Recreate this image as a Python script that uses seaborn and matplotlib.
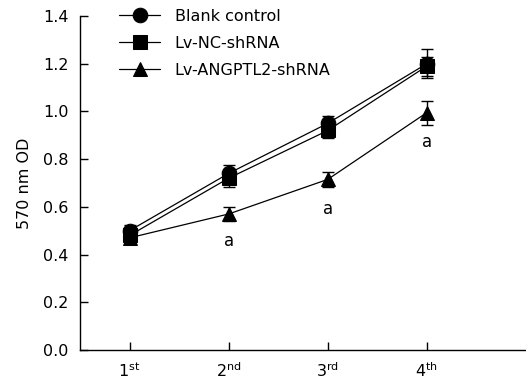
import numpy as np
import pandas as pd
import seaborn as sns
import matplotlib
matplotlib.use("Agg")
import matplotlib.pyplot as plt

sns.set_style("ticks")
plt.rcParams['font.family'] = ['DejaVu Sans']
plt.rcParams['mathtext.default'] = 'regular'
plt.rcParams['text.color'] = 'black'
plt.rcParams['axes.labelcolor'] = 'black'
plt.rcParams['xtick.color'] = 'black'
plt.rcParams['ytick.color'] = 'black'

days = [1, 2, 3, 4]
day_labels = [r'1$^{st}$', r'2$^{nd}$', r'3$^{rd}$', r'4$^{th}$']
groups = ["Blank control", "Lv-NC-shRNA", "Lv-ANGPTL2-shRNA"]
blank = [0.50, 0.74, 0.95, 1.20]
blank_sd = [0.025, 0.035, 0.03, 0.06]
nc = [0.48, 0.72, 0.92, 1.19]
nc_sd = [0.03, 0.035, 0.03, 0.04]
angptl2 = [0.47, 0.57, 0.715, 0.995]
angptl2_sd = [0.02, 0.03, 0.03, 0.05]
sig_pos = [0.455, 0.59, 0.87]

df = pd.DataFrame({
    "day": days * 3,
    "od": blank + nc + angptl2,
    "sd": blank_sd + nc_sd + angptl2_sd,
    "group": np.repeat(groups, 4),
})

fig, ax = plt.subplots(figsize=(5.26, 3.8), dpi=100)
markers = {"Blank control": "o", "Lv-NC-shRNA": "s", "Lv-ANGPTL2-shRNA": "^"}

for g in groups:
    sub = df[df.group == g]
    ax.errorbar(sub.day, sub.od, yerr=sub.sd, fmt="none", ecolor="black",
                elinewidth=1, capsize=4, capthick=1, zorder=2)

sns.lineplot(data=df, x="day", y="od", hue="group", style="group",
             markers=markers, dashes=False, palette=["black"] * 3,
             markersize=10.5, linewidth=0.9, markeredgecolor="black", ax=ax, zorder=3)

for d, y in zip(days[1:], sig_pos):
    ax.text(d, y, "a", ha="center", va="center", fontsize=12)

ax.set_xlim(0.5, 5.0)
ax.set_ylim(0, 1.4)
ax.set_xticks(days)
ax.set_xticklabels(day_labels, fontsize=11.5)
ax.set_yticks(np.arange(0, 1.41, 0.2))
ax.set_yticklabels([f"{v:.1f}" for v in np.arange(0, 1.41, 0.2)], fontsize=11.5)
ax.tick_params(direction="in", length=6, width=1, color="black", pad=8)
ax.set_xlabel("")
ax.set_ylabel("570 nm OD", fontsize=11.5, labelpad=8)
for s in ["left", "bottom"]:
    ax.spines[s].set_color("black")
    ax.spines[s].set_linewidth(1)
sns.despine(ax=ax)

ax.legend(loc="upper left", bbox_to_anchor=(0.055, 1.065), frameon=False,
          fontsize=11.5, handlelength=2.6, handletextpad=0.9,
          labelspacing=0.75, title=None)

fig.subplots_adjust(left=0.152, right=1.0, bottom=0.079, top=0.958)
fig.savefig("out.png", dpi=100)
